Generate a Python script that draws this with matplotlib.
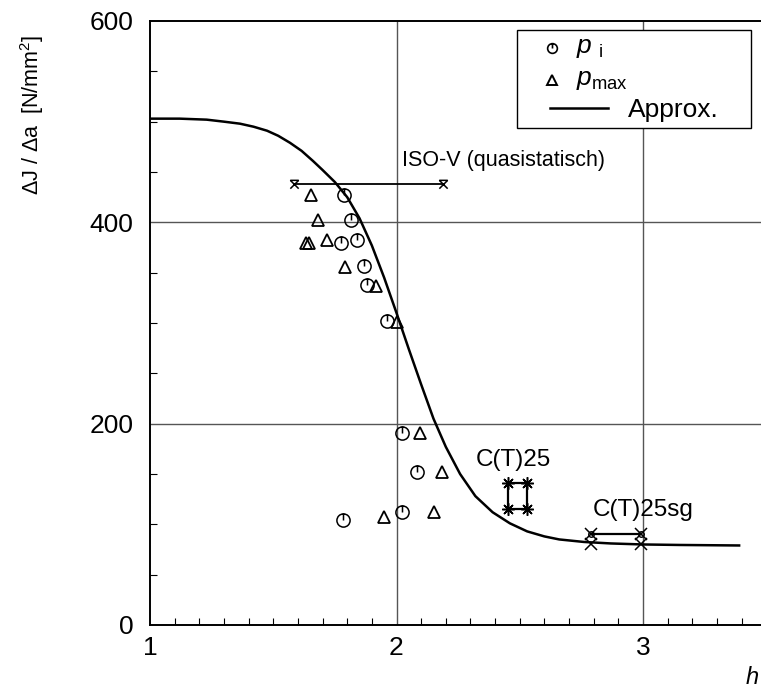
import numpy as np
import matplotlib.pyplot as plt
from matplotlib.path import Path
from matplotlib.patches import Rectangle
from matplotlib.lines import Line2D

plt.rcParams['font.family'] = ['Liberation Sans', 'DejaVu Sans']
plt.rcParams['mathtext.fontset'] = 'custom'
plt.rcParams['mathtext.it'] = 'Liberation Sans:italic'
plt.rcParams['mathtext.rm'] = 'Liberation Sans'

# p_i (circles)
pi_h = [1.785, 1.817, 1.773, 1.841, 1.870, 1.882, 1.963, 2.022, 2.083, 2.022, 1.781]
pi_v = [427, 402, 379, 382, 357, 338, 302, 191, 152, 112, 104]
# p_max (triangles)
pmax_h = [1.655, 1.683, 1.633, 1.644, 1.719, 1.792, 1.917, 2.002, 2.095, 2.184, 2.152, 1.950]
pmax_v = [427, 402, 379, 379, 382, 356, 337, 301, 191, 152, 112, 107]

# approximation curve
appr_h = [1.0, 1.12, 1.23, 1.30, 1.365, 1.42, 1.475, 1.52, 1.568, 1.615, 1.661, 1.70,
          1.75, 1.80, 1.85, 1.90, 1.95, 2.00, 2.05, 2.10, 2.15, 2.20, 2.258,
          2.32, 2.39, 2.46, 2.53, 2.60, 2.66, 2.76, 2.87, 3.0, 3.15, 3.39]
appr_v = [503, 503, 502, 500, 498, 495, 491, 486, 479, 471, 461, 452,
          440, 425, 404, 377, 345, 310, 274, 239, 205, 177, 150,
          128, 112, 101, 93, 88, 85, 82.5, 81, 80, 79.5, 79]

# reference specimens
iso_h = [1.586, 2.188]
iso_v = [438, 438]
ct25_h = [2.451, 2.531]
ct25_top = [141, 141]
ct25_bot = [115, 115]
ctsg_h = [2.790, 2.992]
ctsg_top = [90, 90]
ctsg_bot = [80, 80]

W, H = 761, 692
fig = plt.figure(figsize=(W / 100, H / 100), dpi=100)
ax = fig.add_axes([150 / W, 67 / H, 611 / W, 604 / H])
ax.set_xlim(1, 1 + 611 / 246.5)
ax.set_ylim(0, 600)

for x in [2, 3]:
    ax.axvline(x, color='#555555', lw=1.0, zorder=0)
for y in [200, 400]:
    ax.axhline(y, color='#555555', lw=1.0, zorder=0)

circ = Path.make_compound_path(Path.unit_circle(),
                               Path([[0, 0], [0, 1]], [Path.MOVETO, Path.LINETO]))
xbar = Path([[-1, -1], [1, 1], [-1, 1], [1, -1], [-1, 1], [1, 1]],
            [Path.MOVETO, Path.LINETO, Path.MOVETO, Path.LINETO, Path.MOVETO, Path.LINETO])

ax.plot(appr_h, appr_v, color='black', lw=1.8, zorder=2)
ax.plot(pi_h, pi_v, ls='none', marker=circ, ms=9.5, mfc='none', mec='black',
        mew=1.1, zorder=3)
ax.plot(pmax_h, pmax_v, ls='none', marker='^', ms=8, mfc='none', mec='black',
        mew=1.3, zorder=3)

ax.plot(iso_h, iso_v, color='black', lw=1.3, marker=xbar, ms=6, mew=1.1)
ax.text(2.022, 461, 'ISO-V (quasistatisch)', fontsize=15.5, va='center')

for xx in ct25_h:
    ax.plot([xx, xx], [ct25_top[0], ct25_bot[0]], color='black', lw=1.6)
ax.plot(ct25_h, ct25_top, color='black', lw=1.6, marker=(8, 2, 0), ms=9, mew=1.1)
ax.plot(ct25_h, ct25_bot, color='black', lw=1.6, marker=(8, 2, 0), ms=9, mew=1.1)
ax.text(2.322, 164, 'C(T)25', fontsize=17.5, va='center')

ax.plot(ctsg_h, ctsg_top, color='black', lw=1.6, marker='x', ms=8, mew=1.1)
ax.plot(ctsg_h, ctsg_bot, ls='none', color='black', marker='x', ms=8, mew=1.1)
ax.plot(ctsg_h, ctsg_top, ls='none', marker='o', ms=4, mfc='none', mec='black', mew=1.0)
ax.text(2.797, 114, 'C(T)25sg', fontsize=17.5, va='center')

ax.set_xticks([1, 2, 3])
ax.set_xticks(np.arange(1.1, 3.5, 0.1), minor=True)
ax.set_yticks([0, 200, 400, 600])
ax.set_yticks(np.arange(50, 600, 50), minor=True)
ax.tick_params(axis='x', which='major', length=0, pad=8, labelsize=19)
ax.tick_params(axis='both', which='minor', direction='in', length=5, width=0.8)
ax.tick_params(axis='y', which='major', length=0, pad=12, labelsize=19)
ax.spines['right'].set_visible(False)
for s in ['left', 'bottom', 'top']:
    ax.spines[s].set_linewidth(1.4)

# legend box, drawn by hand to follow the original layout
def fx(px):
    return px / W

def fy(py):
    return 1 - py / H

fig.patches.append(Rectangle((fx(517), fy(128)), fx(751) - fx(517), (128 - 30) / H,
                             transform=fig.transFigure, fc='white', ec='black', lw=1.0))
fig.lines.append(Line2D([fx(552)], [fy(48)], transform=fig.transFigure, ls='none',
                        marker=circ, ms=7, mfc='none', mec='black', mew=1.2))
fig.lines.append(Line2D([fx(552)], [fy(80)], transform=fig.transFigure, ls='none',
                        marker='^', ms=7, mfc='none', mec='black', mew=1.4))
fig.lines.append(Line2D([fx(550), fx(608)], [fy(108), fy(108)],
                        transform=fig.transFigure, color='black', lw=1.8))
fig.text(fx(576), fy(48), r'$p$ $_{\mathrm{i}}$', fontsize=19, va='center')
fig.text(fx(576), fy(80), r'$p_{\mathrm{max}}$', fontsize=19, va='center')
fig.text(fx(628), fy(110), 'Approx.', fontsize=19, va='center')

fig.text(32 / W, 1 - 115 / H, r'$\Delta$J / $\Delta$a  [N/mm$^2$]',
         rotation=90, fontsize=15.5, ha='center', va='center')
fig.text(752 / W, 1 - 678 / H, 'h', fontsize=17, style='italic',
         ha='center', va='center')

fig.savefig('out.png', dpi=100)
